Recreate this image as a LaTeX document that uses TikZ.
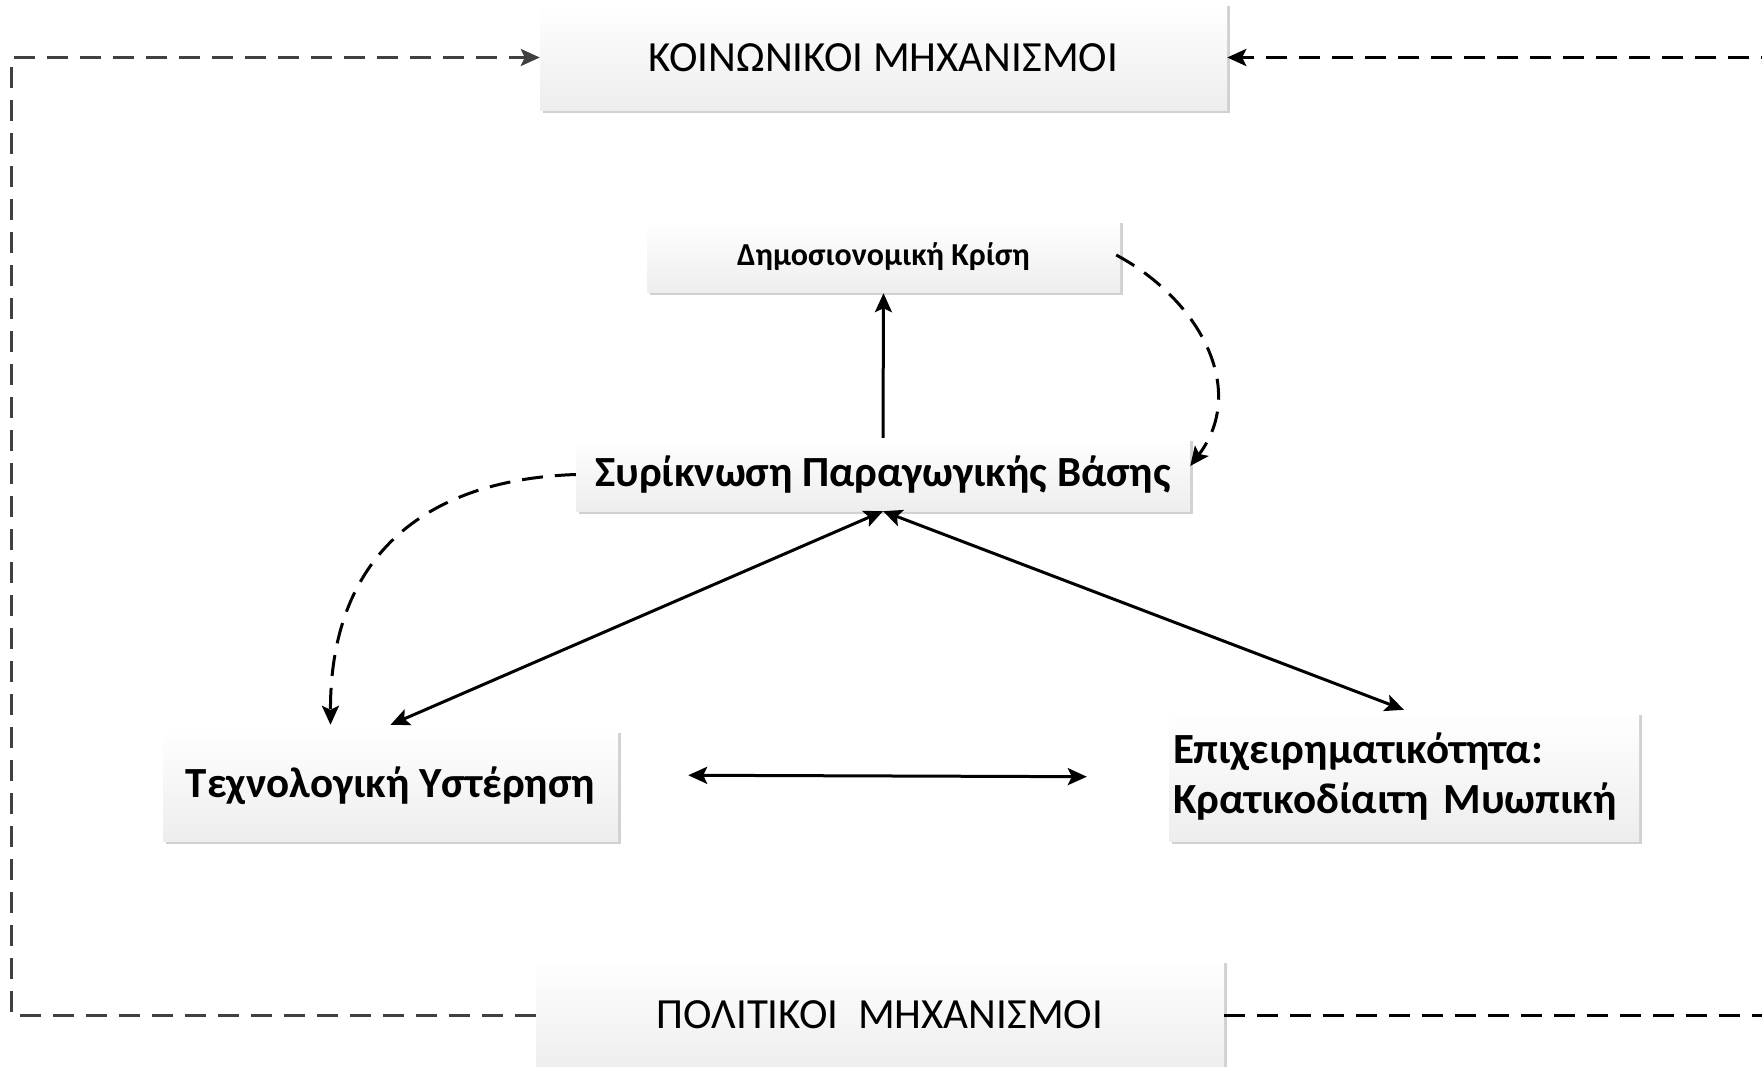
\documentclass[tikz,border=0pt]{standalone}
\usepackage{fontspec}
\setmainfont{Carlito}
\usetikzlibrary{arrows.meta,shadows}
\definecolor{dgray}{HTML}{404040}
\tikzset{
  box/.style={rectangle, draw=none, top color=white, bottom color=black!7,
    drop shadow={shadow xshift=2.5pt, shadow yshift=-2.5pt, fill=black!18, opacity=1},
    inner sep=4pt, align=center},
  dline/.style={line width=3pt, dash pattern=on 21pt off 12pt},
  sline/.style={line width=3pt},
  tip/.style={-{Stealth[length=19pt,width=17pt,inset=4pt]}},
  dtip/.style={{Stealth[length=19pt,width=17pt,inset=4pt]}-{Stealth[length=19pt,width=17pt,inset=4pt]}},
}
\begin{document}
\begin{tikzpicture}[x=1pt,y=-1pt]
\useasboundingbox (0,0) rectangle (1762,1067);
\node[box, minimum width=687pt, minimum height=107pt, font=\fontsize{43}{49}\selectfont] (soc) at (883.5,57.5) {ΚΟΙΝΩΝΙΚΟΙ ΜΗΧΑΝΙΣΜΟΙ};
\node[box, minimum width=473pt, minimum height=72pt, font=\fontsize{32}{36}\selectfont\bfseries] (dim) at (883.5,257) {Δημοσιονομική Κρίση};
\node[box, minimum width=614pt, minimum height=73pt, font=\fontsize{43}{49}\selectfont\bfseries] (syr) at (883,474.5) {Συρίκνωση Παραγωγικής Βάσης};
\node[box, minimum width=455pt, minimum height=111pt, font=\fontsize{43}{49}\selectfont\bfseries] (tech) at (390.5,785.5) {Τεχνολογική Υστέρηση};
\node[box, minimum width=470pt, minimum height=129pt, text width=462pt, align=left, font=\fontsize{43}{50}\selectfont\bfseries] (epi) at (1404,776.5) {Επιχειρηματικότητα:\\Κρατικοδίαιτη Μυωπική};
\node[box, minimum width=688pt, minimum height=110pt, font=\fontsize{43}{49}\selectfont] (pol) at (880,1015) {ΠΟΛΙΤΙΚΟΙ\ \ ΜΗΧΑΝΙΣΜΟΙ};

\coordinate (L) at (11,0);
\coordinate (R) at (1800,0);
\draw[dline, dgray, tip] (pol.west) -| (L |- soc.west) -- (soc.west);
\draw[dline, black, tip] (pol.east) -| (R |- soc.east) -- (soc.east);

\draw[sline, tip] (syr.north) -- (dim.south);
\draw[dline, tip] ([xshift=-4pt,yshift=2pt]dim.east) .. controls (1200,300) and (1248,390) .. ([yshift=8.5pt]syr.east);
\draw[dline, tip] (syr.west) .. controls (420,480) and (330,560) .. ([xshift=-60pt,yshift=5pt]tech.north);
\draw[sline, dtip] ([yshift=5pt]tech.north) -- (syr.south);
\draw[sline, dtip] (syr.south) -- ([yshift=2pt]epi.north);
\draw[sline, dtip, shorten <=70pt, shorten >=82pt] ([yshift=10.5pt]tech.east) -- ([yshift=-0.5pt]epi.west);
\end{tikzpicture}
\end{document}
